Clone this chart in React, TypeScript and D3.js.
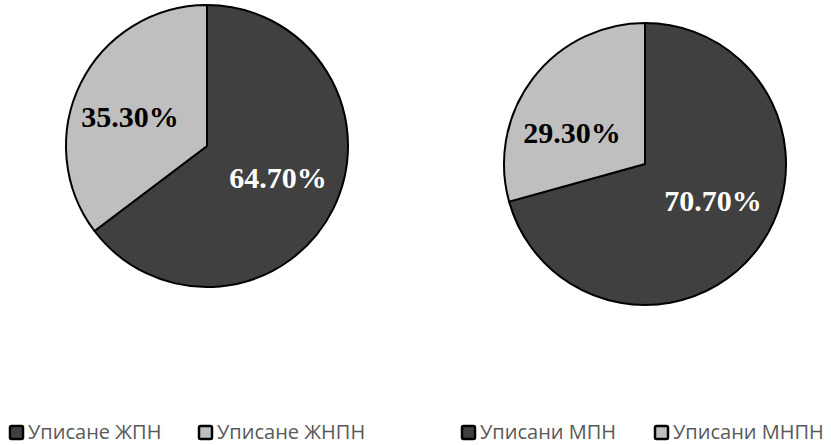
import React from "react";
import * as d3 from "d3";

const leftLabels = ["Уписане ЖПН", "Уписане ЖНПН"];
const leftValues = [64.7, 35.3];
const rightLabels = ["Уписани МПН", "Уписани МНПН"];
const rightValues = [70.7, 29.3];
const colors = ["#404040", "#bfbfbf"];
const textColors = ["#ffffff", "#000000"];

const W = 831;
const H = 445;

type PieProps = {
  cx: number;
  cy: number;
  r: number;
  values: number[];
  labelPos: [number, number][];
};

function Pie({ cx, cy, r, values, labelPos }: PieProps) {
  const pie = d3.pie<number>().sort(null).value((d) => d);
  const arcs = pie(values);
  const arc = d3.arc<d3.PieArcDatum<number>>().innerRadius(0).outerRadius(r);
  return (
    <g transform={`translate(${cx},${cy})`}>
      {arcs.map((a, i) => (
        <path key={i} d={arc(a) || ""} fill={colors[i]} stroke="#000" strokeWidth={2} strokeLinejoin="round" />
      ))}
      {arcs.map((a, i) => (
        <text
          key={"t" + i}
          x={labelPos[i][0]}
          y={labelPos[i][1]}
          textAnchor="middle"
          dominantBaseline="central"
          fontFamily="'Liberation Serif', 'Times New Roman', serif"
          fontWeight="bold"
          fontSize={30}
          fill={textColors[i]}
        >
          {values[i].toFixed(2)}%
        </text>
      ))}
    </g>
  );
}

function Legend({ x, y, labels, gap }: { x: number; y: number; labels: string[]; gap: number }) {
  return (
    <g transform={`translate(${x},${y})`}>
      {labels.map((l, i) => (
        <g key={i} transform={`translate(${i * gap},0)`}>
          <rect x={2} y={-13} width={13} height={13} fill={colors[i]} stroke="#000" strokeWidth={2.5} rx={1.5} />
          <text x={20} y={0} fontFamily="'Open Sans', sans-serif" fontSize={20} fill="#595959">
            {l}
          </text>
        </g>
      ))}
    </g>
  );
}

export default function App() {
  return (
    <svg width={W} height={H} style={{ position: "absolute", left: 0, top: 0, background: "#fff" }}>
      <rect width={W} height={H} fill="#fff" />
      <Pie cx={207} cy={146} r={141} values={leftValues} labelPos={[[71, 31], [-77, -30]]} />
      <Pie cx={645} cy={164} r={141} values={rightValues} labelPos={[[68, 36], [-73, -32]]} />
      <Legend x={8} y={439} labels={leftLabels} gap={189} />
      <Legend x={460} y={439} labels={rightLabels} gap={193} />
    </svg>
  );
}
